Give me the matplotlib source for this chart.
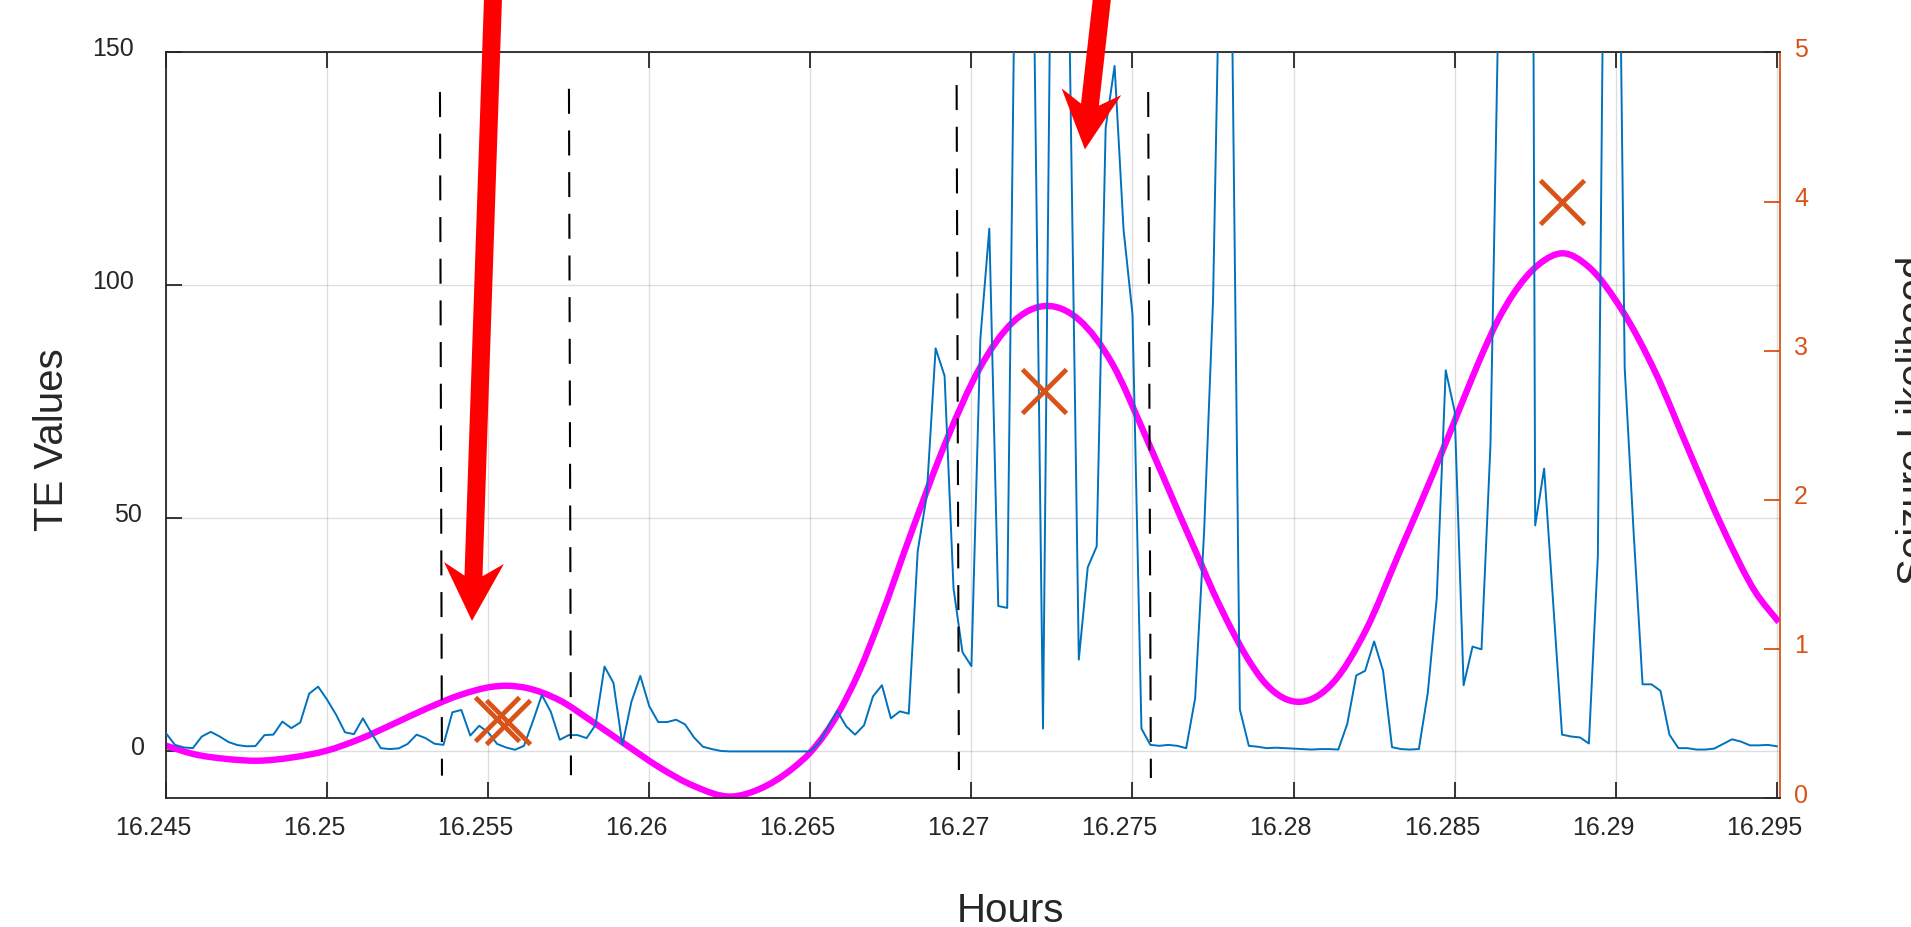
import matplotlib
matplotlib.use("Agg")
import matplotlib.pyplot as plt
import numpy as np
from matplotlib.patches import Polygon, PathPatch
from matplotlib.path import Path
from matplotlib.transforms import ScaledTranslation

plt.rcParams['font.family'] = ['Liberation Sans', 'DejaVu Sans']

# TE values, one sample per second from 16.245 h (values above 150 are clipped)
t_start = 16.245
te_values = [
    3.9, 1.4, 0.85, 0.7, 3.2, 4.2, 3.2, 2.0, 1.35, 1.1,
    1.15, 3.5, 3.6, 6.4, 5.0, 6.2, 12.4, 13.9, 11.1, 7.9,
    4.1, 3.7, 7.1, 3.8, 0.7, 0.5, 0.65, 1.6, 3.6, 2.85,
    1.65, 1.4, 8.4, 8.9, 3.4, 5.5, 4.1, 1.6, 0.85, 0.35,
    1.2, 6.5, 12.1, 8.5, 2.5, 3.5, 3.5, 2.85, 5.7, 18.2,
    14.7, 1.4, 10.6, 16.2, 9.7, 6.3, 6.3, 6.8, 5.8, 3.0,
    1.0, 0.5, 0.1, 0.0, 0.0, 0.0, 0.0, 0.0, 0.0, 0.0,
    0.0, 0.0, 0.0, 1.9, 5.4, 8.7, 5.4, 3.6, 5.6, 11.8,
    14.2, 7.1, 8.6, 8.1, 43.0, 54.8, 86.5, 80.6, 35.0, 21.3,
    18.3, 88.6, 112.2, 31.2, 30.8, 194, 220, 160, 4.9, 200,
    230, 150, 19.7, 39.5, 44.0, 133.8, 147.1, 112.0, 93.8, 4.9,
    1.4, 1.2, 1.4, 1.2, 0.7, 11.4, 47.0, 96.7, 200, 180,
    9.0, 1.2, 1.0, 0.7, 0.8, 0.7, 0.6, 0.5, 0.4, 0.5,
    0.5, 0.4, 5.9, 16.3, 17.3, 23.6, 17.3, 0.9, 0.5, 0.4,
    0.5, 12.6, 32.9, 81.8, 73.0, 14.2, 22.5, 21.9, 65.7, 172,
    500, 500, 600, 48.5, 60.7, 32.0, 3.6, 3.2, 3.0, 1.7,
    41.8, 250, 250, 82.3, 47.0, 14.4, 14.4, 13.0, 3.6, 0.7,
    0.7, 0.4, 0.4, 0.6, 1.6, 2.6, 2.1, 1.3, 1.3, 1.4,
    1.1,
]
te_hours = t_start + np.arange(len(te_values)) / 3600.0

# seizure likelihood curve (right axis)
lk_hours = [16.24500, 16.24585, 16.24688, 16.24786, 16.24895, 16.24998, 16.25102,
            16.25205, 16.25309, 16.25412, 16.25516, 16.25557, 16.25619, 16.25722,
            16.25825, 16.25929, 16.26032, 16.26136, 16.26255, 16.26342, 16.26446,
            16.26500, 16.26587, 16.26650, 16.26715, 16.26818, 16.26921, 16.27025,
            16.27128, 16.27232, 16.27335, 16.27438, 16.27542, 16.27645, 16.27707,
            16.27748, 16.27810, 16.27852, 16.27914, 16.28020, 16.28121,
            16.28224, 16.28328, 16.28431, 16.28534, 16.28576, 16.28638, 16.28679,
            16.28762, 16.28836, 16.28917, 16.29020, 16.29124, 16.29227, 16.29330,
            16.29434, 16.29506]
likelihood = [0.351, 0.295, 0.262, 0.250, 0.273, 0.317, 0.396,
              0.496, 0.600, 0.690, 0.747, 0.753, 0.738, 0.655,
              0.510, 0.355, 0.205, 0.083, 0.010, 0.060, 0.200,
              0.306, 0.570, 0.840, 1.190, 1.807, 2.390, 2.880,
              3.190, 3.300, 3.205, 2.910, 2.420, 1.905, 1.600,
              1.395, 1.120, 0.955, 0.765, 0.645, 0.770,
              1.124, 1.645, 2.164, 2.710, 2.930, 3.220, 3.370,
              3.580, 3.653, 3.560, 3.270, 2.850, 2.330, 1.820,
              1.380, 1.180]

# detected seizure points (right axis)
seizure_hours = [16.25528, 16.25562, 16.27224, 16.28834]
seizure_vals = [0.53, 0.51, 2.73, 4.0]

# dashed event windows (x top, x bottom, y top, y bottom) on left axis
window_x_top = [16.253504, 16.257508, 16.269541, 16.275487]
window_x_bot = [16.253566, 16.257570, 16.269612, 16.275571]
window_y_top = [141.5, 142.2, 143.0, 141.5]
window_y_bot = [-5.2, -5.1, -4.0, -5.7]

# red arrows: tail (above plot) and tip, left-axis units
arrow_tails = [(16.255149, 161.5), (16.274050, 161.5)]
arrow_tips = [(16.254497, 28.0), (16.273523, 129.2)]

x_ticks = [16.245, 16.25, 16.255, 16.26, 16.265, 16.27, 16.275, 16.28, 16.285, 16.29, 16.295]
x_labels = ['16.245', '16.25', '16.255', '16.26', '16.265', '16.27', '16.275',
            '16.28', '16.285', '16.29', '16.295']
left_ticks = [0, 50, 100, 150]
right_ticks = [0, 1, 2, 3, 4, 5]

dark = '#262626'
orange = '#D95319'
blue = '#0072BD'

fig = plt.figure(figsize=(19.11, 9.28), dpi=100)
ax = fig.add_axes([0.08687, 0.1390, 0.8446, 0.8034])
ax2 = ax.twinx()
ax.set_zorder(ax2.get_zorder() + 1)
ax.patch.set_visible(False)

ax.set_xlim(16.245, 16.2951)
ax.set_ylim(-10, 150)
ax2.set_ylim(0, 5)
ax.set_xticks(x_ticks)
ax.set_xticklabels(x_labels)
ax.set_yticks(left_ticks)
ax.set_yticklabels([str(v) for v in left_ticks])
ax2.set_yticks(right_ticks)
ax2.set_yticklabels([str(v) for v in right_ticks])

ax.grid(True, color=dark, alpha=0.15, linewidth=1.0)
ax.set_axisbelow(True)

for s in ['left', 'top', 'bottom']:
    ax.spines[s].set_color(dark)
    ax.spines[s].set_linewidth(1.3)
    ax2.spines[s].set_visible(False)
ax.spines['right'].set_visible(False)
ax2.spines['right'].set_color(orange)
ax2.spines['right'].set_linewidth(1.3)

ax.tick_params(axis='both', direction='in', length=11.5, width=1.3, colors=dark,
               labelsize=18, top=True, right=False)
ax.tick_params(axis='x', pad=12.2)
ax.tick_params(axis='y', pad=15.1)
ax2.tick_params(axis='y', direction='in', length=11.5, width=1.3, colors=orange,
                labelsize=18, pad=10.1)


def smooth_path(xs, ys):
    # cubic Bezier segments through the read points (Hermite tangents)
    xs = np.asarray(xs, float)
    ys = np.asarray(ys, float)
    h = np.diff(xs)
    d = np.diff(ys) / h
    m = np.empty_like(ys)
    m[0], m[-1] = d[0], d[-1]
    m[1:-1] = (d[:-1] * h[1:] + d[1:] * h[:-1]) / (h[:-1] + h[1:])
    verts = [(xs[0], ys[0])]
    codes = [Path.MOVETO]
    for i in range(len(xs) - 1):
        verts += [(xs[i] + h[i] / 3, ys[i] + m[i] * h[i] / 3),
                  (xs[i + 1] - h[i] / 3, ys[i + 1] - m[i + 1] * h[i] / 3),
                  (xs[i + 1], ys[i + 1])]
        codes += [Path.CURVE4] * 3
    return Path(verts, codes)


# magenta likelihood curve, blue TE trace, seizure markers
ax.add_patch(PathPatch(smooth_path(lk_hours, likelihood), facecolor='none',
                       edgecolor='#FF00FF', lw=4.6, joinstyle='round',
                       transform=ax2.transData, zorder=2))
ax.plot(te_hours, te_values, color=blue, lw=1.4, zorder=3)
ax.plot(seizure_hours, seizure_vals, 'x', color=orange, ms=32, mew=3.4,
        transform=ax2.transData, zorder=4, clip_on=False)

for xt, xb, yt, yb in zip(window_x_top, window_x_bot, window_y_top, window_y_bot):
    ax.plot([xt, xb], [yt, yb], color='black', lw=1.5, linestyle=(0, (12, 8)), zorder=3)


def draw_arrow(tail, tip, shaft=18, head_len=58, head_w=60, notch=45):
    p0 = ax.transData.transform(tail)
    p1 = ax.transData.transform(tip)
    u = (p1 - p0) / np.hypot(*(p1 - p0))
    n = np.array([-u[1], u[0]])
    p0 = p0 - u * 80
    verts = [p0 + n * shaft / 2, p1 - u * notch + n * shaft / 2,
             p1 - u * head_len + n * head_w / 2, p1,
             p1 - u * head_len - n * head_w / 2, p1 - u * notch - n * shaft / 2,
             p0 - n * shaft / 2]
    data_verts = ax.transData.inverted().transform(verts)
    ax.add_patch(Polygon(data_verts, closed=True, facecolor='#FF0000', edgecolor='none',
                         clip_on=False, zorder=6))


for tail, tip in zip(arrow_tails, arrow_tips):
    draw_arrow(tail, tip)

ax.set_xlabel('Hours', fontsize=29, color=dark)
ax.xaxis.label.set_va('baseline')
ax.xaxis.set_label_coords(0.523, -0.165)
ax.set_ylabel('TE Values', fontsize=29, color=dark)
ax.yaxis.set_label_coords(-0.0589, 0.4815)
ax2.set_ylabel('Seizure Likelihood', fontsize=29, color=dark)
ax2.yaxis.set_label_coords(1.0719, 0.5084)


# tick labels in the original sit slightly off their ticks
def shift(label, dx, dy):
    label.set_transform(label.get_transform() +
                        ScaledTranslation(dx / 100, dy / 100, fig.dpi_scale_trans))


for lab in ax.get_xticklabels():
    shift(lab, -12.8, 0)
left_dx = {'0': 0, '50': -3, '100': -11, '150': -11}
for lab in ax.get_yticklabels():
    shift(lab, left_dx.get(lab.get_text(), 0), 6.5)
for lab in ax2.get_yticklabels():
    shift(lab, 0, 6.0)

fig.savefig('out.png', dpi=100)
plt.close(fig)
